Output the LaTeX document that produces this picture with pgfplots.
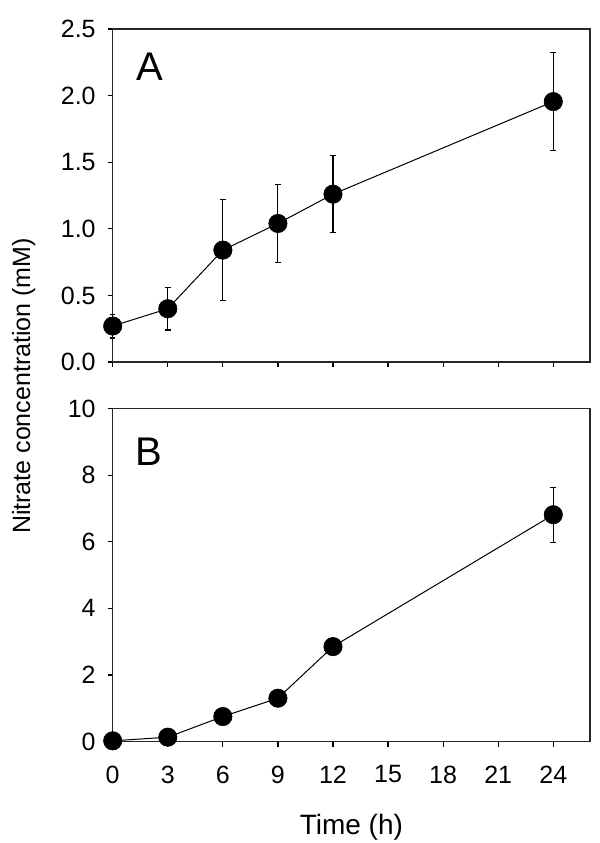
\documentclass[border=0pt]{standalone}
\usepackage{pgfplots}
\usepackage{pgfplotstable}
\pgfplotsset{compat=1.18}
\usepackage{fontspec}
\setmainfont{Liberation Sans}

\pgfplotstableread{
t y e
0 0.27 0.09
3 0.40 0.16
6 0.84 0.38
9 1.04 0.29
12 1.26 0.29
24 1.955 0.37
}\dataA
\pgfplotstableread{
t y e
0 0.02 0
3 0.13 0
6 0.75 0
9 1.30 0
12 2.85 0
24 6.81 0.83
}\dataB

\pgfplotsset{
  myax/.style={
    scale only axis, width=238.65pt, height=166.5pt,
    xmin=0, xmax=26, xtick={0,3,...,24},
    axis line style={line width=0.6pt, black!85},
    tick align=outside, xtick pos=left, ytick pos=left,
    major tick length=2.5pt,
    tick style={line width=0.6pt, black},
    ticklabel style={font=\fontsize{12.5}{15}\selectfont},
    yticklabel style={xshift=-2.5pt},
    xticklabel style={yshift=-6pt},
    /pgf/number format/assume math mode=true,
    clip=false,
  },
  mypl/.style={
    black, line width=0.5pt, mark=*, mark size=4.6pt, mark options={fill=black, line width=0.3pt},
    error bars/.cd, y dir=both, y explicit,
    error bar style={line width=0.55pt, black},
    error mark options={rotate=90, mark size=1.4pt, line width=0.55pt, black},
  },
}

\begin{document}
\begin{tikzpicture}
\useasboundingbox (-56.35pt,14.5pt) rectangle (243.65pt,-407pt);
\begin{axis}[myax, at={(0,0)}, anchor=north west,
  ymin=0, ymax=2.5, ytick={0,0.5,...,2.5}, xticklabels={},
  yticklabel style={/pgf/number format/.cd, fixed, fixed zerofill, precision=1}]
  \addplot[mypl] table[x=t, y=y, y error=e] {\dataA};
  \node[font=\fontsize{20}{24}\selectfont] at (axis cs:2.03,2.22) {A};
\end{axis}
\begin{axis}[myax, at={(0,-189.75pt)}, anchor=north west,
  ymin=0, ymax=10, ytick={0,2,...,10},
  xlabel={Time (h)}, xlabel style={font=\fontsize{14}{17}\selectfont, yshift=-8.5pt}]
  \addplot[mypl] table[x=t, y=y, y error=e] {\dataB};
  \node[font=\fontsize{20}{24}\selectfont] at (axis cs:1.95,8.7) {B};
\end{axis}
\node[rotate=90, font=\fontsize{12.5}{15}\selectfont] at (-44.5pt,-178.5pt) {Nitrate concentration (mM)};
\end{tikzpicture}
\end{document}
